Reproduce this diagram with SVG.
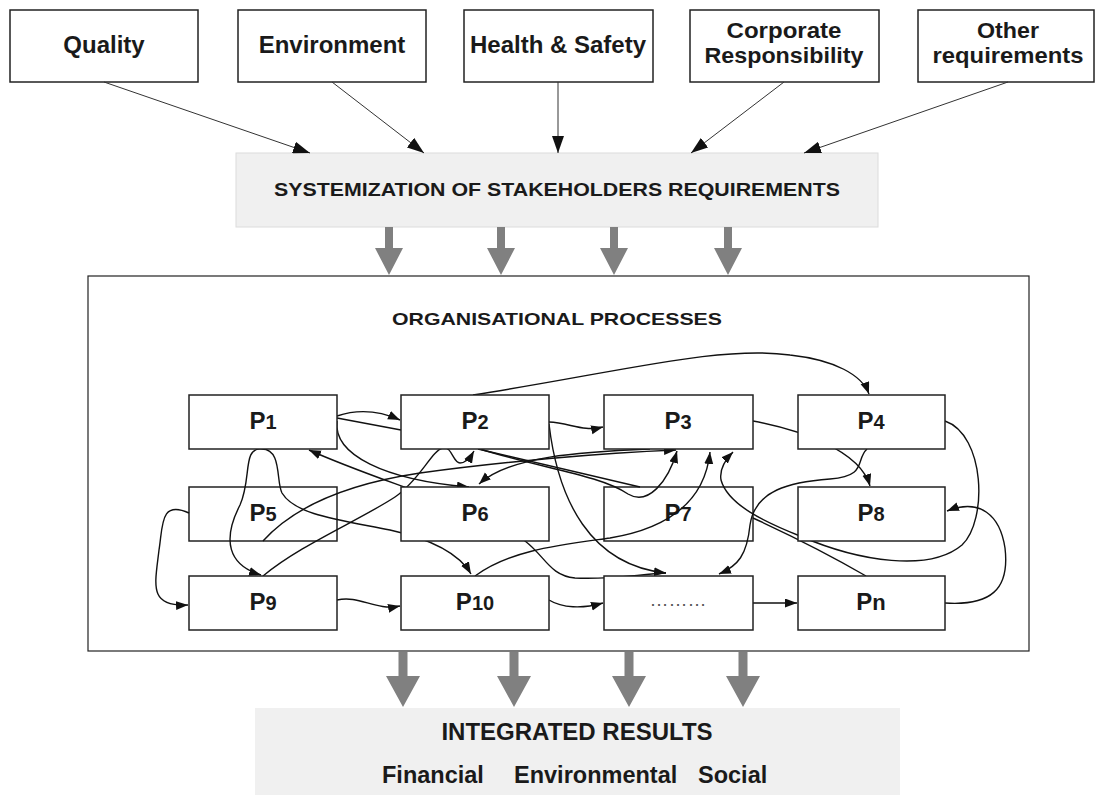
<svg xmlns="http://www.w3.org/2000/svg" width="1096" height="797" viewBox="0 0 1096 797">
<style>
text{font-family:"Liberation Sans",Arial,sans-serif;font-weight:bold;fill:#1a1a1a}
.box{fill:#fff;stroke:#222;stroke-width:1.5}
.tl{font-size:24px}
.tl2{font-size:22px}
.pl{font-size:24px}
.sub{font-size:20px}
.thin{fill:none;stroke:#333;stroke-width:1}
.con{fill:none;stroke:#111;stroke-width:1.4}
.ga{fill:#808080}
</style>
<defs>
<marker id="ah" markerUnits="userSpaceOnUse" markerWidth="18" markerHeight="12" refX="17" refY="6" orient="auto"><path d="M0,0 L17,6 L0,12 z" fill="#111"/></marker>
<marker id="pa" markerUnits="userSpaceOnUse" markerWidth="13" markerHeight="10" refX="12" refY="4.5" orient="auto-start-reverse"><path d="M0,0 L12,4.5 L0,9 z" fill="#111"/></marker>
</defs>
<rect width="1096" height="797" fill="#fff"/>

<g id="quality"><rect class="box" x="10" y="10" width="188" height="72"/><text class="tl" x="104" y="53" text-anchor="middle">Quality</text></g>
<g id="environment"><rect class="box" x="238" y="10" width="188" height="72"/><text class="tl" x="332" y="53" text-anchor="middle">Environment</text></g>
<g id="health"><rect class="box" x="464" y="10" width="189" height="72"/><text class="tl" x="558" y="53" text-anchor="middle">Health &amp; Safety</text></g>
<g id="corporate"><rect class="box" x="690" y="10" width="189" height="72"/><text class="tl2" x="784" y="38" text-anchor="middle" textLength="115" lengthAdjust="spacingAndGlyphs">Corporate</text><text class="tl2" x="784" y="63" text-anchor="middle" textLength="159" lengthAdjust="spacingAndGlyphs">Responsibility</text></g>
<g id="other"><rect class="box" x="918" y="10" width="176" height="72"/><text class="tl2" x="1008" y="38" text-anchor="middle" textLength="62" lengthAdjust="spacingAndGlyphs">Other</text><text class="tl2" x="1008" y="63" text-anchor="middle" textLength="151" lengthAdjust="spacingAndGlyphs">requirements</text></g>

<g id="systemization"><rect x="236" y="153" width="642" height="74" fill="#f0f0f0" stroke="#dcdcdc" stroke-width="1"/><text x="557" y="196" font-size="18" text-anchor="middle" textLength="566" lengthAdjust="spacingAndGlyphs">SYSTEMIZATION OF STAKEHOLDERS REQUIREMENTS</text></g>

<g id="processes"><rect x="88" y="276" width="941" height="375" fill="#fff" stroke="#222" stroke-width="1.2"/><text x="557" y="325" font-size="17" text-anchor="middle" textLength="330" lengthAdjust="spacingAndGlyphs">ORGANISATIONAL PROCESSES</text></g>

<g id="results"><rect x="255" y="708" width="645" height="87" fill="#f0f0f0"/><text x="577" y="740" font-size="24" text-anchor="middle">INTEGRATED RESULTS</text><text x="382" y="783" font-size="23.5">Financial</text><text x="514" y="783" font-size="23.5">Environmental</text><text x="698" y="783" font-size="23.5">Social</text></g>

<g id="P5"><rect class="box" x="189" y="487" width="148" height="54"/><text class="pl" x="263" y="521" text-anchor="middle">P<tspan class="sub">5</tspan></text></g>
<g id="P7"><rect class="box" x="604" y="487" width="149" height="54"/><text class="pl" x="678" y="521" text-anchor="middle">P<tspan class="sub">7</tspan></text></g>

<g id="connectors">
<path class="thin" d="M104,82 L310,153" marker-end="url(#ah)"/>
<path class="thin" d="M332,82 L424,153" marker-end="url(#ah)"/>
<path class="thin" d="M558,82 L558,153" marker-end="url(#ah)"/>
<path class="thin" d="M784,82 L691,153" marker-end="url(#ah)"/>
<path class="thin" d="M1008,82 L804,153" marker-end="url(#ah)"/>
<polygon class="ga" points="385,227 393,227 393,248 403,248 389,275 375,248 385,248"/>
<polygon class="ga" points="497,227 505,227 505,248 515,248 501,275 487,248 497,248"/>
<polygon class="ga" points="610,227 618,227 618,248 628,248 614,275 600,248 610,248"/>
<polygon class="ga" points="724,227 732,227 732,248 742,248 728,275 714,248 724,248"/>
<polygon class="ga" points="398.5,652 407.5,652 407.5,676 420,676 403,707 386,676 398.5,676"/>
<polygon class="ga" points="509.5,652 518.5,652 518.5,676 531,676 514,707 497,676 509.5,676"/>
<polygon class="ga" points="624.5,652 633.5,652 633.5,676 646,676 629,707 612,676 624.5,676"/>
<polygon class="ga" points="738.5,652 747.5,652 747.5,676 760,676 743,707 726,676 738.5,676"/>
<path class="con" d="M337,416 C358,409 380,411 400,420" marker-end="url(#pa)"/>
<path class="con" d="M337,418 L401,430"/>
<path class="con" d="M478,449 L640,487"/>
<path class="con" d="M337,421 C333,455 385,480 469,487" marker-end="url(#pa)"/>
<path class="con" d="M309,450 C380,482 470,505 525,541 C545,556 550,576 575,578 C610,580 640,574 666,573" marker-start="url(#pa)"/>
<path class="con" d="M549,422 C570,423 583,432 603,427" marker-end="url(#pa)"/>
<path class="con" d="M473,395 C620,372 720,345 790,355 C835,360 862,375 869,394" marker-end="url(#pa)"/>
<path class="con" d="M549,424 C558,500 590,565 666,573" marker-end="url(#pa)"/>
<path class="con" d="M753,421 C800,430 860,450 870,486" marker-end="url(#pa)"/>
<path class="con" d="M867,449 C855,460 868,476 830,479 C790,482 755,490 750,525 C747,555 738,566 719,574" marker-end="url(#pa)"/>
<path class="con" d="M945,421 C985,435 988,520 962,545 C930,572 860,562 800,536 C765,522 728,505 721,480 C719,468 726,459 733,452" marker-end="url(#pa)"/>
<path class="con" d="M866,576 C830,555 790,535 753,518"/>
<path class="con" d="M945,603 C990,606 1010,590 1005,548 C1000,515 980,498 947,511" marker-end="url(#pa)"/>
<path class="con" d="M753,603 L797,603" marker-end="url(#pa)"/>
<path class="con" d="M549,600 C562,608 582,609 603,603" marker-end="url(#pa)"/>
<path class="con" d="M337,600 C360,595 375,611 400,606" marker-end="url(#pa)"/>
<path class="con" d="M189,513 C160,500 163,525 159,550 C155,585 148,607 188,605" marker-end="url(#pa)"/>
<path class="con" d="M262,449 C242,447 252,478 240,505 C222,540 228,565 261,575" marker-end="url(#pa)"/>
<path class="con" d="M262,449 C282,449 276,482 282,493 C295,515 340,520 390,530 C435,540 460,555 471,574" marker-end="url(#pa)"/>
<path class="con" d="M263,541 C300,500 360,482 420,473 C500,462 600,453 676,450" marker-end="url(#pa)"/>
<path class="con" d="M650,449 C580,452 510,456 479,484" marker-end="url(#pa)"/>
<path class="con" d="M480,449 C540,468 600,475 628,494 C648,506 668,482 677,451" marker-end="url(#pa)"/>
<path class="con" d="M475,576 C510,550 560,545 610,538 C670,528 705,500 710,452" marker-end="url(#pa)"/>
<path class="con" d="M263,576 C300,545 360,520 395,497 C420,480 432,450 443,448 C452,446 453,463 460,463 C466,463 470,458 474,451" marker-end="url(#pa)"/>
</g>

<g id="P1"><rect class="box" x="189" y="395" width="148" height="54"/><text class="pl" x="263" y="429" text-anchor="middle">P<tspan class="sub">1</tspan></text></g>
<g id="P2"><rect class="box" x="401" y="395" width="148" height="54"/><text class="pl" x="475" y="429" text-anchor="middle">P<tspan class="sub">2</tspan></text></g>
<g id="P3"><rect class="box" x="604" y="395" width="149" height="54"/><text class="pl" x="678" y="429" text-anchor="middle">P<tspan class="sub">3</tspan></text></g>
<g id="P4"><rect class="box" x="798" y="395" width="147" height="54"/><text class="pl" x="871" y="429" text-anchor="middle">P<tspan class="sub">4</tspan></text></g>
<g id="P6"><rect class="box" x="401" y="487" width="148" height="54"/><text class="pl" x="475" y="521" text-anchor="middle">P<tspan class="sub">6</tspan></text></g>
<g id="P8"><rect class="box" x="798" y="487" width="147" height="54"/><text class="pl" x="871" y="521" text-anchor="middle">P<tspan class="sub">8</tspan></text></g>
<g id="P9"><rect class="box" x="189" y="576" width="148" height="54"/><text class="pl" x="263" y="610" text-anchor="middle">P<tspan class="sub">9</tspan></text></g>
<g id="P10"><rect class="box" x="401" y="576" width="148" height="54"/><text class="pl" x="475" y="610" text-anchor="middle">P<tspan class="sub">10</tspan></text></g>
<g id="Pdots"><rect class="box" x="604" y="576" width="149" height="54"/><text x="678" y="606" font-size="19" style="font-weight:normal;fill:#555" text-anchor="middle">………</text></g>
<g id="Pn"><rect class="box" x="798" y="576" width="147" height="54"/><text class="pl" x="871" y="610" text-anchor="middle">P<tspan font-size="22">n</tspan></text></g>
</svg>
